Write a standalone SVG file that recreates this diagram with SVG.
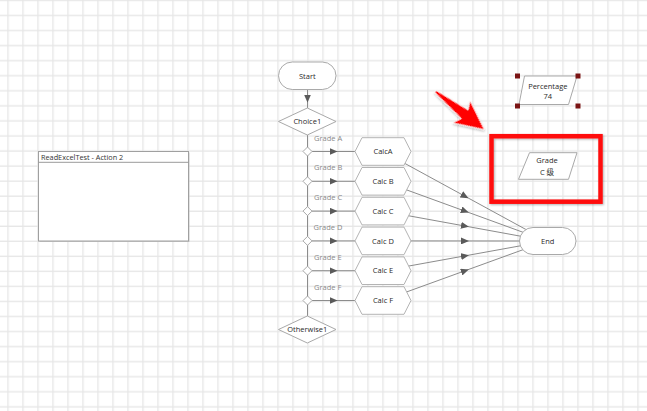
<svg xmlns="http://www.w3.org/2000/svg" width="647" height="411" viewBox="0 0 647 411">
<style>
.t{font-family:"Open Sans","Noto Sans CJK SC",sans-serif;font-size:7.5px;fill:#2a2a2a;text-anchor:middle}
.g{font-family:"Open Sans",sans-serif;font-size:7.5px;fill:#8a8a8a}
.s{fill:#fff;stroke:#a9a9a9;stroke-width:1}
.hx{fill:#fff;stroke:#b4b4b4;stroke-width:1}
.c{fill:none;stroke:#8c8c8c;stroke-width:1}
.h{fill:#7a1414}
</style>
<defs>
<pattern id="grid" patternUnits="userSpaceOnUse" x="0.25" y="-7.25" width="15" height="15.05">
<rect x="7.1" y="0" width="1.3" height="15.05" fill="#e6e6e6"/>
<rect x="0" y="7.1" width="15" height="1.3" fill="#e6e6e6"/>
</pattern>
<marker id="ar" markerUnits="userSpaceOnUse" markerWidth="8" markerHeight="7" refX="4" refY="3.5" orient="auto">
<path d="M0,0 L8,3.5 L0,7 z" fill="#5a5a5a"/>
</marker>
<filter id="sh" x="-20%" y="-20%" width="140%" height="140%">
<feDropShadow dx="1" dy="1" stdDeviation="1" flood-color="#000" flood-opacity="0.3"/>
</filter>
</defs>
<rect width="647" height="411" fill="#fff"/>
<rect width="647" height="411" fill="url(#grid)"/>

<g id="readexcel">
<rect x="39.5" y="152.5" width="150" height="89.5" fill="#c8c8c8"/>
<rect x="38.5" y="151.5" width="150" height="89.5" fill="#fff" stroke="#a0a0a0"/>
<line x1="38.5" y1="162.3" x2="188.5" y2="162.3" stroke="#9a9a9a"/>
<text x="41" y="160" style="font-family:'Open Sans',sans-serif;font-size:7.3px;fill:#333">ReadExcelTest - Action 2</text>
</g>

<g id="connectors">
<path class="c" d="M307.5 89.5 L307.5 98.5 L307.5 108" marker-mid="url(#ar)"/>
<path class="c" d="M307.5 135 L307.5 316"/>
<path class="c" d="M312 151.5 L333.5 151.5 L355 151.5" marker-mid="url(#ar)"/>
<path class="c" d="M312 181.3 L333.5 181.3 L355 181.3" marker-mid="url(#ar)"/>
<path class="c" d="M312 211.1 L333.5 211.1 L355 211.1" marker-mid="url(#ar)"/>
<path class="c" d="M312 240.9 L333.5 240.9 L355 240.9" marker-mid="url(#ar)"/>
<path class="c" d="M312 270.7 L333.5 270.7 L355 270.7" marker-mid="url(#ar)"/>
<path class="c" d="M312 300.5 L333.5 300.5 L355 300.5" marker-mid="url(#ar)"/>
<path class="c" d="M383 151.5 L465 196.25 L547 241" marker-mid="url(#ar)"/>
<path class="c" d="M383 181.3 L465 211.15 L547 241" marker-mid="url(#ar)"/>
<path class="c" d="M383 211.1 L465 226.05 L547 241" marker-mid="url(#ar)"/>
<path class="c" d="M383 240.9 L465 240.95 L547 241" marker-mid="url(#ar)"/>
<path class="c" d="M383 270.7 L465 255.85 L547 241" marker-mid="url(#ar)"/>
<path class="c" d="M383 300.5 L465 270.75 L547 241" marker-mid="url(#ar)"/>
<text class="g" x="314" y="140.5">Grade A</text>
<text class="g" x="314" y="170.3">Grade B</text>
<text class="g" x="314" y="200.1">Grade C</text>
<text class="g" x="313.5" y="229.9">Grade D</text>
<text class="g" x="314" y="259.7">Grade E</text>
<text class="g" x="314" y="289.5">Grade F</text>
</g>

<g id="start">
<rect class="s" x="278.5" y="62" width="57.5" height="27.5" rx="13.75"/>
<text class="t" x="307.3" y="78.6">Start</text>
</g>
<g id="choice1">
<polygon class="s" points="278.5,121.5 307.3,108 336,121.5 307.3,135"/>
<text class="t" x="307.3" y="124">Choice1</text>
</g>
<g id="gateways">
<polygon class="s" points="303,151.5 307.5,147 312,151.5 307.5,156"/>
<polygon class="s" points="303,181.3 307.5,176.8 312,181.3 307.5,185.8"/>
<polygon class="s" points="303,211.1 307.5,206.6 312,211.1 307.5,215.6"/>
<polygon class="s" points="303,240.9 307.5,236.4 312,240.9 307.5,245.4"/>
<polygon class="s" points="303,270.7 307.5,266.2 312,270.7 307.5,275.2"/>
<polygon class="s" points="303,300.5 307.5,296 312,300.5 307.5,305"/>
</g>
<g id="calcA">
<polygon class="hx" points="355,151.5 362,137.7 404,137.7 411,151.5 404,165.3 362,165.3"/>
<text class="t" x="383" y="154.2">CalcA</text>
</g>
<g id="calcB">
<polygon class="hx" points="355,181.3 362,167.5 404,167.5 411,181.3 404,195.1 362,195.1"/>
<text class="t" x="383" y="184">Calc B</text>
</g>
<g id="calcC">
<polygon class="hx" points="355,211.1 362,197.3 404,197.3 411,211.1 404,224.9 362,224.9"/>
<text class="t" x="383" y="213.8">Calc C</text>
</g>
<g id="calcD">
<polygon class="hx" points="355,240.9 362,227.1 404,227.1 411,240.9 404,254.7 362,254.7"/>
<text class="t" x="383" y="243.6">Calc D</text>
</g>
<g id="calcE">
<polygon class="hx" points="355,270.7 362,256.9 404,256.9 411,270.7 404,284.5 362,284.5"/>
<text class="t" x="383" y="273.4">Calc E</text>
</g>
<g id="calcF">
<polygon class="hx" points="355,300.5 362,286.7 404,286.7 411,300.5 404,314.3 362,314.3"/>
<text class="t" x="383" y="303.2">Calc F</text>
</g>
<g id="otherwise1">
<polygon class="s" points="278.5,329.5 307.3,316 336,329.5 307.3,343"/>
<text class="t" x="307.3" y="332">Otherwise1</text>
</g>
<g id="end">
<rect class="s" x="519.5" y="227.5" width="56.5" height="27" rx="13.5"/>
<text class="t" x="547.7" y="243.7">End</text>
</g>
<g id="percentage">
<polygon class="s" points="524.5,76 577,76 568.5,104.5 519,104.5"/>
<text class="t" x="547.8" y="88.5">Percentage</text>
<text class="t" x="547.8" y="99.2">74</text>
<rect class="h" x="515" y="73.5" width="5" height="5"/>
<rect class="h" x="575.5" y="73.5" width="5" height="5"/>
<rect class="h" x="515" y="103.5" width="5" height="5"/>
<rect class="h" x="575.5" y="103.5" width="5" height="5"/>
</g>
<g id="grade">
<polygon class="s" points="529.5,152.7 577,152.7 568.5,179.3 518.5,179.3"/>
<text class="t" x="547" y="163.3">Grade</text>
<text class="t" x="547" y="175.3">C 级</text>
</g>
<g id="annotation">
<rect x="491.5" y="136.2" width="109" height="65.5" fill="none" stroke="#ff0a0a" stroke-width="4.5" filter="url(#sh)"/>
<polygon points="0,-1.3 37,-5.5 33,-14 62,0 33,14 37,5.5 0,1.3" fill="#ff0000" stroke="#fff" stroke-width="0.8" stroke-linejoin="round" filter="url(#sh)" transform="translate(435.5,91.5) rotate(38)"/>
</g>
</svg>
